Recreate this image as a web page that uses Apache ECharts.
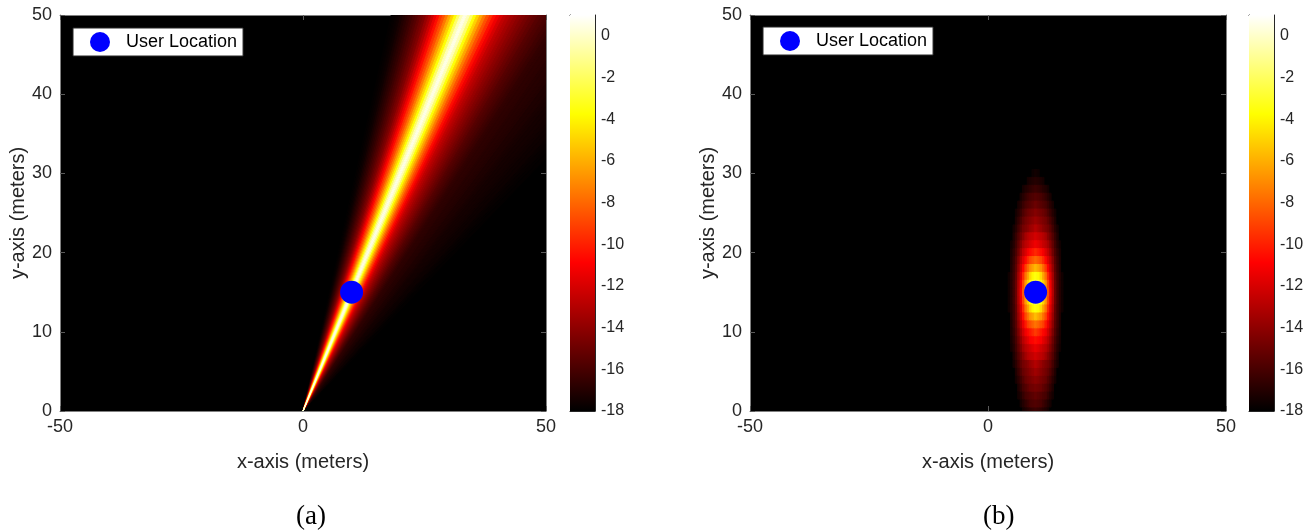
<!DOCTYPE html>
<html><head><meta charset="utf-8">
<script src="https://cdn.jsdelivr.net/npm/echarts@6/dist/echarts.min.js"></script>
<style>html,body{margin:0;padding:0;background:#fff}#c{width:1315px;height:532px}</style>
</head><body><div id="c"></div>
<script>
// ---------------- data ----------------
const userLocation = [10, 15];              // blue marker (x, y) in meters
const arrayOrigin = [0, 0];                 // beams start at the array
const xTickValues = [-50, 0, 50];
const yTickValues = [0, 10, 20, 30, 40, 50];
const colorRange = [-18, 1];                // dB range of the colour bar
const colorbarTicks = [-18, -16, -14, -12, -10, -8, -6, -4, -2, 0];

// (a) far-field beam: gain (dB) per angular offset (deg) from the user direction
const beamOffsetsDeg = [
  -13.5, -13, -12.5, -12, -11.5, -11, -10.5, -10, -9.5, -9, -8.5, -8, -7.5, -7, -6.5, -6,
  -5.5, -5, -4.5, -4, -3.5, -3, -2.5, -2, -1.5, -1, -0.5, 0, 0.5, 1, 1.5, 2, 2.5, 3, 3.5,
  4, 4.5, 5, 5.5, 6, 6.5, 7, 7.5, 8, 8.5, 9, 9.5, 10, 10.5, 11, 11.5, 12, 12.5, 13, 13.5,
  14, 14.5, 15, 15.5, 16, 16.5, 17, 17.5, 18, 18.5, 19, 19.5, 20, 20.5, 21, 21.5, 22,
  22.5, 23, 23.5
];
const beamGainDb = [
  -17.9, -17.8, -17.7, -17.55, -17.3, -17.05, -16.8, -16.55, -16.25, -15.9, -15.6, -15.2, -14.8, -14.4, -13.75, -13.1,
  -12.3, -11.4, -10.5, -9.5, -8.6, -7.5, -6.25, -5, -3.6, -1.8, -0.3, 0.5, -0.3, -1.8, -3.6, -5, -6.25, -7.5, -8.6,
  -9.5, -10.5, -11.3, -12.0, -12.6, -13.0, -13.4, -13.75, -14.1, -14.4, -14.7, -15.0, -15.3, -15.6, -15.8, -16.0, -16.2, -16.4, -16.6, -16.7,
  -16.75, -16.8, -16.9, -16.95, -17.0, -17.05, -17.15, -17.2, -17.3, -17.35, -17.4, -17.45, -17.5, -17.55, -17.6, -17.65, -17.75,
  -17.8, -17.85, -17.9
];

// (b) near-field focused spot: rows of [y, first x, dB values at x, x+0.5, x+1, ...]
const spotCellWidth = 0.5;   // m (x); rows are 1 m tall
const spotRows = [
  [30, 9.5, [-17.6, -17.5, -17.6]],
  [29, 8.5, [-17.4, -17.25, -17.1, -17, -17.1, -17.25, -17.4]],
  [28, 7.5, [-17.4, -17.1, -16.9, -16.7, -16.5, -16.35, -16.5, -16.7, -16.9, -17.1, -17.4]],
  [27, 7, [-17.3, -16.95, -16.55, -16.2, -15.95, -15.8, -15.65, -15.8, -15.95, -16.2, -16.55, -16.95, -17.3]],
  [26, 6.5, [-17.3, -16.9, -16.4, -15.95, -15.7, -15.5, -15.25, -15, -15.25, -15.5, -15.7, -15.95, -16.4, -16.9, -17.3]],
  [25, 6, [-17.4, -17, -16.4, -15.85, -15.35, -14.95, -14.75, -14.55, -14.3, -14.55, -14.75, -14.95, -15.35, -15.85, -16.4, -17, -17.4]],
  [24, 6, [-17.15, -16.6, -15.9, -15.3, -14.8, -14.5, -14.25, -13.95, -13.7, -13.95, -14.25, -14.5, -14.8, -15.3, -15.9, -16.6, -17.15]],
  [23, 5.5, [-17.4, -16.9, -16.2, -15.4, -14.8, -14.45, -14.1, -13.7, -13.4, -13, -13.4, -13.7, -14.1, -14.45, -14.8, -15.4, -16.2, -16.9, -17.4]],
  [22, 5.5, [-17.2, -16.5, -15.75, -14.9, -14.2, -13.4, -12.9, -12.6, -12.4, -12.1, -12.4, -12.6, -12.9, -13.4, -14.2, -14.9, -15.75, -16.5, -17.2]],
  [21, 5, [-17.5, -17, -16.2, -15.3, -14.3, -13.4, -12.8, -12.4, -12, -11.6, -11.3, -11.6, -12, -12.4, -12.8, -13.4, -14.3, -15.3, -16.2, -17, -17.5]],
  [20, 5, [-17.3, -16.7, -15.9, -14.9, -13.65, -12.6, -11.9, -11.1, -10.6, -10.2, -9.8, -10.2, -10.6, -11.1, -11.9, -12.6, -13.65, -14.9, -15.9, -16.7, -17.3]],
  [19, 5, [-17.2, -16.5, -15.6, -14.3, -12.9, -11.8, -10.7, -9.65, -8.85, -8.4, -8, -8.4, -8.85, -9.65, -10.7, -11.8, -12.9, -14.3, -15.6, -16.5, -17.2]],
  [18, 5, [-17.1, -16.4, -15.4, -13.9, -12.3, -10.8, -9.2, -7.9, -6.9, -6.3, -5.75, -6.3, -6.9, -7.9, -9.2, -10.8, -12.3, -13.9, -15.4, -16.4, -17.1]],
  [17, 4.5, [-17.5, -17, -16.3, -15.2, -13.4, -11.7, -9.7, -7.7, -6.2, -4.8, -3.9, -3.5, -3.9, -4.8, -6.2, -7.7, -9.7, -11.7, -13.4, -15.2, -16.3, -17, -17.5]],
  [16, 4.5, [-17.5, -17, -16.2, -15, -13.1, -11.2, -8.9, -6.6, -4.9, -3.6, -2.8, -2, -2.8, -3.6, -4.9, -6.6, -8.9, -11.2, -13.1, -15, -16.2, -17, -17.5]],
  [15, 4.5, [-17.5, -17, -16.2, -15, -13, -11, -8.5, -6.3, -4.4, -2.4, -0.7, 1, -0.7, -2.4, -4.4, -6.3, -8.5, -11, -13, -15, -16.2, -17, -17.5]],
  [14, 4.5, [-17.5, -17, -16.2, -15, -13.1, -11.2, -8.9, -6.6, -4.9, -3.6, -2.8, -2, -2.8, -3.6, -4.9, -6.6, -8.9, -11.2, -13.1, -15, -16.2, -17, -17.5]],
  [13, 4.5, [-17.5, -17, -16.3, -15.2, -13.4, -11.7, -9.7, -7.7, -6.2, -4.8, -3.9, -3.5, -3.9, -4.8, -6.2, -7.7, -9.7, -11.7, -13.4, -15.2, -16.3, -17, -17.5]],
  [12, 5, [-17.1, -16.3, -15.3, -13.7, -12.1, -10.5, -8.9, -7.7, -6.75, -6.2, -5.6, -6.2, -6.75, -7.7, -8.9, -10.5, -12.1, -13.7, -15.3, -16.3, -17.1]],
  [11, 5, [-17.2, -16.4, -15.5, -14.1, -12.65, -11.4, -10.2, -9.1, -8.6, -8.1, -7.7, -8.1, -8.6, -9.1, -10.2, -11.4, -12.65, -14.1, -15.5, -16.4, -17.2]],
  [10, 5, [-17.25, -16.6, -15.7, -14.55, -13.25, -12.2, -11.25, -10.65, -10.2, -9.7, -9.25, -9.7, -10.2, -10.65, -11.25, -12.2, -13.25, -14.55, -15.7, -16.6, -17.25]],
  [9, 5, [-17.35, -16.8, -16, -15, -13.9, -12.9, -12.2, -11.6, -11, -10.75, -10.5, -10.75, -11, -11.6, -12.2, -12.9, -13.9, -15, -16, -16.8, -17.35]],
  [8, 5, [-17.5, -17, -16.2, -15.35, -14.4, -13.5, -12.9, -12.5, -12.2, -11.8, -11.5, -11.8, -12.2, -12.5, -12.9, -13.5, -14.4, -15.35, -16.2, -17, -17.5]],
  [7, 5.5, [-17.2, -16.5, -15.7, -14.9, -14.2, -13.5, -12.95, -12.7, -12.5, -12.2, -12.5, -12.7, -12.95, -13.5, -14.2, -14.9, -15.7, -16.5, -17.2]],
  [6, 5.5, [-17.35, -16.8, -16.1, -15.3, -14.8, -14.45, -14.1, -13.7, -13.35, -13, -13.35, -13.7, -14.1, -14.45, -14.8, -15.3, -16.1, -16.8, -17.35]],
  [5, 6, [-17.1, -16.45, -15.75, -15.15, -14.75, -14.45, -14.15, -13.85, -13.55, -13.85, -14.15, -14.45, -14.75, -15.15, -15.75, -16.45, -17.1]],
  [4, 6, [-17.35, -16.85, -16.2, -15.65, -15.1, -14.8, -14.6, -14.35, -14.15, -14.35, -14.6, -14.8, -15.1, -15.65, -16.2, -16.85, -17.35]],
  [3, 6.5, [-17.15, -16.6, -16.05, -15.65, -15.3, -14.95, -14.85, -14.7, -14.85, -14.95, -15.3, -15.65, -16.05, -16.6, -17.15]],
  [2, 6.5, [-17.45, -17.05, -16.55, -16.05, -15.85, -15.65, -15.45, -15.25, -15.45, -15.65, -15.85, -16.05, -16.55, -17.05, -17.45]],
  [1, 7, [-17.4, -17.05, -16.65, -16.3, -15.95, -15.85, -15.75, -15.85, -15.95, -16.3, -16.65, -17.05, -17.4]],
  [0, 7.5, [-17.45, -17.15, -16.9, -16.7, -16.5, -16.35, -16.5, -16.7, -16.9, -17.15, -17.45]]
];

// MATLAB "hot" colormap, evenly spaced stops
const hotColors = ['#000000', '#550000', '#aa0000', '#ff0000', '#ff5500', '#ffaa00', '#ffff00', '#ffff80', '#ffffff'];

// ---------------- build ----------------
const FONT = "'Liberation Sans', Arial, Helvetica, sans-serif";
const TXT = '#262626';
const beamData = beamOffsetsDeg.map((o, i) => [o, beamGainDb[i]]);
const spotData = [];
spotRows.forEach(([y, x0, vals]) => vals.forEach((v, k) => spotData.push([x0 + k * spotCellWidth, y, v])));
const beamCenterDeg = Math.atan2(userLocation[0] - arrayOrigin[0], userLocation[1] - arrayOrigin[1]) * 180 / Math.PI;
const beamStepDeg = 0.5;

const plots = [
  {left: 60, width: 486, cbLeft: 570, legendLeft: 73, legendTop: 28},
  {left: 750, width: 476, cbLeft: 1249, legendLeft: 763, legendTop: 27}
];
const TOP = 15, H = 396;

const grid = [], xAxis = [], yAxis = [];
const lineStyle = {color: '#808080', width: 1};
const tickStyle = {show: true, inside: true, length: 5, lineStyle: {color: '#5a5a5a'}};
plots.forEach((p) => {
  grid.push({left: p.left, top: TOP, width: p.width, height: H, show: true, backgroundColor: '#000', borderWidth: 0});
  grid.push({left: p.cbLeft, top: TOP, width: 25, height: H, show: false});
});
for (let g = 0; g < 4; g++) {
  if (g % 2 === 0) {
    xAxis.push({gridIndex: g, type: 'value', min: xTickValues[0], max: xTickValues[xTickValues.length - 1], interval: 50, position: 'bottom',
      axisLine: {show: true, onZero: false, lineStyle}, axisTick: tickStyle,
      axisLabel: {fontSize: 18, color: TXT, fontFamily: FONT, margin: 7}, splitLine: {show: false},
      name: 'x-axis (meters)', nameLocation: 'middle', nameGap: 41,
      nameTextStyle: {fontSize: 20, color: TXT, fontFamily: FONT}});
    xAxis.push({gridIndex: g, type: 'value', min: -50, max: 50, interval: 50, position: 'top',
      axisLine: {show: true, onZero: false, lineStyle}, axisTick: tickStyle,
      axisLabel: {show: false}, splitLine: {show: false}});
    yAxis.push({gridIndex: g, type: 'value', min: yTickValues[0], max: yTickValues[yTickValues.length - 1], interval: 10, position: 'left',
      axisLine: {show: true, onZero: false, lineStyle}, axisTick: tickStyle,
      axisLabel: {fontSize: 18, color: TXT, fontFamily: FONT, margin: 8}, splitLine: {show: false},
      name: 'y-axis (meters)', nameLocation: 'middle', nameGap: 30,
      nameTextStyle: {fontSize: 20, color: TXT, fontFamily: FONT}});
    yAxis.push({gridIndex: g, type: 'value', min: 0, max: 50, interval: 10, position: 'right',
      axisLine: {show: true, onZero: false, lineStyle}, axisTick: tickStyle,
      axisLabel: {show: false}, splitLine: {show: false}});
  } else {
    const cbLine = {show: true, onZero: false, lineStyle: {color: '#262626', width: 1}};
    xAxis.push({gridIndex: g, type: 'value', min: 0, max: 1, position: 'bottom', axisLine: cbLine, axisTick: {show: false}, axisLabel: {show: false}, splitLine: {show: false}});
    xAxis.push({gridIndex: g, type: 'value', min: 0, max: 1, position: 'top', axisLine: cbLine, axisTick: {show: false}, axisLabel: {show: false}, splitLine: {show: false}});
    yAxis.push({gridIndex: g, type: 'value', min: colorRange[0], max: colorRange[1], position: 'left', axisLine: cbLine, axisTick: {show: false}, axisLabel: {show: false}, splitLine: {show: false}});
    yAxis.push({gridIndex: g, type: 'value', min: colorRange[0], max: colorRange[1], interval: 2, position: 'right',
      axisLine: cbLine, axisTick: {show: true, inside: true, length: 4, lineStyle: {color: '#262626'}, customValues: colorbarTicks},
      axisLabel: {fontSize: 16, color: TXT, fontFamily: FONT, margin: 6, customValues: colorbarTicks}, splitLine: {show: false}});
  }
}

function wedgeItem(params, api) {
  const off = api.value(0), v = api.value(1);
  const R = 90, hw = beamStepDeg / 2;
  const a = (beamCenterDeg + off - hw) * Math.PI / 180, b = (beamCenterDeg + off + hw) * Math.PI / 180;
  const o = api.coord(arrayOrigin);
  const pa = api.coord([arrayOrigin[0] + R * Math.sin(a), arrayOrigin[1] + R * Math.cos(a)]);
  const pb = api.coord([arrayOrigin[0] + R * Math.sin(b), arrayOrigin[1] + R * Math.cos(b)]);
  const c = api.visual('color');
  return {type: 'polygon', z2: Math.round((v + 20) * 10), shape: {points: [o, pa, pb]},
    style: {fill: c, stroke: c, lineWidth: 1, lineJoin: 'bevel'}};
}
function cellItem(params, api) {
  const x = api.value(0), y = api.value(1), v = api.value(2);
  const p0 = api.coord([x - spotCellWidth / 2, y + 0.5]);
  const p1 = api.coord([x + spotCellWidth / 2, y - 0.5]);
  const c = api.visual('color');
  return {type: 'rect', z2: Math.round((v + 20) * 10), shape: {x: p0[0], y: p0[1], width: p1[0] - p0[0], height: p1[1] - p0[1]},
    style: {fill: c, stroke: c, lineWidth: 1}};
}
function colorbarItem(params, api) {
  const p0 = api.coord([0, api.value(1)]);
  const p1 = api.coord([1, api.value(0)]);
  const stops = hotColors.map((c, i) => ({offset: i / (hotColors.length - 1), color: c}));
  return {type: 'rect', shape: {x: p0[0], y: p0[1], width: p1[0] - p0[0], height: p1[1] - p0[1]},
    style: {fill: new echarts.graphic.LinearGradient(0, 1, 0, 0, stops)}};
}

const markerStyle = {color: '#0000ff', opacity: 1};
const series = [
  {type: 'custom', name: 'beam', xAxisIndex: 0, yAxisIndex: 0, clip: true, renderItem: wedgeItem, data: beamData, silent: true},
  {type: 'custom', name: 'spot', xAxisIndex: 4, yAxisIndex: 4, clip: true, renderItem: cellItem, data: spotData, silent: true},
  {type: 'scatter', name: 'User Location', xAxisIndex: 0, yAxisIndex: 0, data: [userLocation], symbol: 'circle', symbolSize: 23, itemStyle: markerStyle, z: 5},
  {type: 'scatter', name: 'User Location', xAxisIndex: 4, yAxisIndex: 4, data: [userLocation], symbol: 'circle', symbolSize: 23, itemStyle: markerStyle, z: 5},
  {type: 'custom', name: 'cbA', xAxisIndex: 2, yAxisIndex: 2, renderItem: colorbarItem, data: [colorRange], silent: true},
  {type: 'custom', name: 'cbB', xAxisIndex: 6, yAxisIndex: 6, renderItem: colorbarItem, data: [colorRange], silent: true}
];

const legendBase = {data: ['User Location'], orient: 'horizontal', icon: 'circle', itemWidth: 42, itemHeight: 20,
  backgroundColor: '#fff', borderColor: '#262626', borderWidth: 1, padding: [4, 6, 4, 17], selectedMode: false,
  itemStyle: {opacity: 1}, textStyle: {fontSize: 18, color: '#000', fontFamily: FONT}};

const chart = echarts.init(document.getElementById('c'), null, {renderer: 'canvas'});
chart.setOption({
  animation: false,
  backgroundColor: '#fff',
  grid, xAxis, yAxis, series,
  visualMap: [
    {type: 'continuous', show: false, min: colorRange[0], max: colorRange[1], dimension: 1, seriesIndex: 0, inRange: {color: hotColors}},
    {type: 'continuous', show: false, min: colorRange[0], max: colorRange[1], dimension: 2, seriesIndex: 1, inRange: {color: hotColors}}
  ],
  legend: plots.map(p => Object.assign({}, legendBase, {left: p.legendLeft, top: p.legendTop})),
  graphic: [
    {type: 'text', left: 296, top: 503, style: {text: '(a)', font: "27px 'Liberation Serif', 'Times New Roman', serif", fill: '#000'}},
    {type: 'text', left: 983, top: 503, style: {text: '(b)', font: "27px 'Liberation Serif', 'Times New Roman', serif", fill: '#000'}}
  ]
});
</script></body></html>
